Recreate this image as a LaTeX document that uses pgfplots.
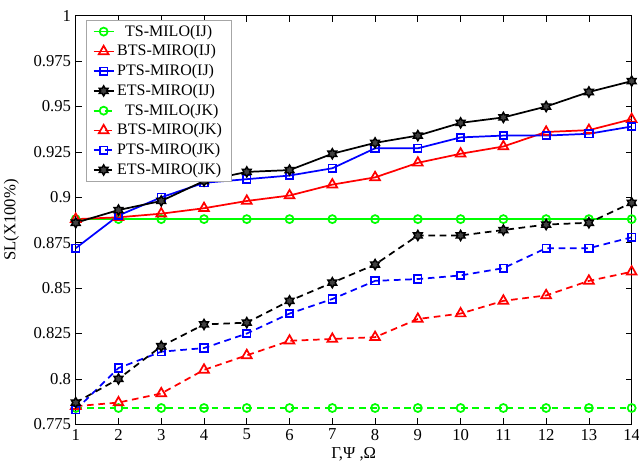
\documentclass[border=0pt]{standalone}
\usepackage{pgfplots}
\pgfplotsset{compat=1.18}
\usepackage{pgfplotstable}
\usepackage{fontspec}
\setmainfont{Liberation Serif}

\pgfdeclareplotmark{hexagram}{%
  \pgfpathmoveto{\pgfpointpolar{90}{\pgfplotmarksize}}%
  \pgfpathlineto{\pgfpointpolar{120}{0.577\pgfplotmarksize}}%
  \pgfpathlineto{\pgfpointpolar{150}{\pgfplotmarksize}}%
  \pgfpathlineto{\pgfpointpolar{180}{0.577\pgfplotmarksize}}%
  \pgfpathlineto{\pgfpointpolar{210}{\pgfplotmarksize}}%
  \pgfpathlineto{\pgfpointpolar{240}{0.577\pgfplotmarksize}}%
  \pgfpathlineto{\pgfpointpolar{270}{\pgfplotmarksize}}%
  \pgfpathlineto{\pgfpointpolar{300}{0.577\pgfplotmarksize}}%
  \pgfpathlineto{\pgfpointpolar{330}{\pgfplotmarksize}}%
  \pgfpathlineto{\pgfpointpolar{0}{0.577\pgfplotmarksize}}%
  \pgfpathlineto{\pgfpointpolar{30}{\pgfplotmarksize}}%
  \pgfpathlineto{\pgfpointpolar{60}{0.577\pgfplotmarksize}}%
  \pgfpathclose
  \pgfusepathqfillstroke
}

\definecolor{mgreen}{RGB}{0,255,0}
\definecolor{mred}{RGB}{255,0,0}
\definecolor{mblue}{RGB}{0,0,255}

\pgfplotstableread{
x  tsij   btsij  ptsij  etsij  tsjk   btsjk  ptsjk  etsjk
1  0.888  0.888  0.872  0.886  0.784  0.785  0.783  0.787
2  0.888  0.889  0.890  0.893  0.784  0.787  0.806  0.800
3  0.888  0.891  0.900  0.898  0.784  0.792  0.815  0.818
4  0.888  0.894  0.908  0.909  0.784  0.805  0.817  0.830
5  0.888  0.898  0.910  0.914  0.784  0.813  0.825  0.831
6  0.888  0.901  0.912  0.915  0.784  0.821  0.836  0.843
7  0.888  0.907  0.916  0.924  0.784  0.822  0.844  0.853
8  0.888  0.911  0.927  0.930  0.784  0.823  0.854  0.863
9  0.888  0.919  0.927  0.934  0.784  0.833  0.855  0.879
10 0.888  0.924  0.933  0.941  0.784  0.836  0.857  0.879
11 0.888  0.928  0.934  0.944  0.784  0.843  0.861  0.882
12 0.888  0.936  0.934  0.950  0.784  0.846  0.872  0.885
13 0.888  0.937  0.935  0.958  0.784  0.854  0.872  0.886
14 0.888  0.943  0.939  0.964  0.784  0.859  0.878  0.897
}\data

\begin{document}
\begin{tikzpicture}[font=\fontsize{12pt}{14pt}\selectfont]
\begin{axis}[
  scale only axis,
  width=417pt, height=306.5pt,
  xmin=1, xmax=14, ymin=0.775, ymax=1,
  xtick={1,...,14},
  ytick={0.775,0.8,0.825,0.85,0.875,0.9,0.925,0.95,0.975,1},
  yticklabel style={/pgf/number format/.cd, fixed, precision=3},
  /pgf/number format/assume math mode=true,
  tick label style={font=\fontsize{12.5pt}{14pt}\selectfont},
  label style={font=\fontsize{12.5pt}{14pt}\selectfont},
  tick align=inside,
  major tick length=4.5pt,
  axis line style={line width=0.6pt},
  every tick/.style={black, line width=0.6pt},
  xlabel={Γ,Ψ ,Ω},
  ylabel={SL(X100\%)},
  xlabel style={yshift=1.5pt},
  ylabel style={yshift=4pt},
  legend cell align=left,
  legend style={at={(axis description cs:0,1)}, anchor=north west,
    xshift=7.5pt, yshift=-3.2pt, draw=gray!70, line width=0.6pt,
    font=\fontsize{12pt}{14pt}\selectfont, row sep=1pt,
    inner xsep=5pt, inner ysep=1.5pt},
  legend image code/.code={
    \draw[mark repeat=2,mark phase=2] plot coordinates {(0cm,0cm) (7.5pt,0cm) (15pt,0cm)};
  },
  every axis plot/.append style={line width=1.3pt},
]
\addplot[mgreen, mark=o, mark size=3pt] table[x=x,y=tsij]{\data};
\addlegendentry{\hspace{6pt}TS-MILO(IJ)}
\addplot[mred, mark=triangle, mark size=4.2pt] table[x=x,y=btsij]{\data};
\addlegendentry{BTS-MIRO(IJ)}
\addplot[mblue, mark=square, mark size=2.8pt] table[x=x,y=ptsij]{\data};
\addlegendentry{PTS-MIRO(IJ)}
\addplot[black, mark=hexagram, mark size=3.8pt, mark options={line width=1.1pt, fill=black!75}] table[x=x,y=etsij]{\data};
\addlegendentry{ETS-MIRO(IJ)}
\addplot[mgreen, dash pattern=on 5pt off 3.5pt, mark=o, mark size=3pt, mark options={solid}] table[x=x,y=tsjk]{\data};
\addlegendentry{\hspace{6pt}TS-MILO(JK)}
\addplot[mred, dash pattern=on 5pt off 3.5pt, mark=triangle, mark size=4.2pt, mark options={solid}] table[x=x,y=btsjk]{\data};
\addlegendentry{BTS-MIRO(JK)}
\addplot[mblue, dash pattern=on 5pt off 3.5pt, mark=square, mark size=2.8pt, mark options={solid}] table[x=x,y=ptsjk]{\data};
\addlegendentry{PTS-MIRO(JK)}
\addplot[black, dash pattern=on 5pt off 3.5pt, mark=hexagram, mark size=3.8pt, mark options={solid, line width=1.1pt, fill=black!75}] table[x=x,y=etsjk]{\data};
\addlegendentry{ETS-MIRO(JK)}
\end{axis}
\pgfresetboundingbox
\path ([shift={(-56.8pt,-36.5pt)}]current axis.south west) rectangle ([shift={(5.5pt,11.8pt)}]current axis.north east);
\end{tikzpicture}
\end{document}
